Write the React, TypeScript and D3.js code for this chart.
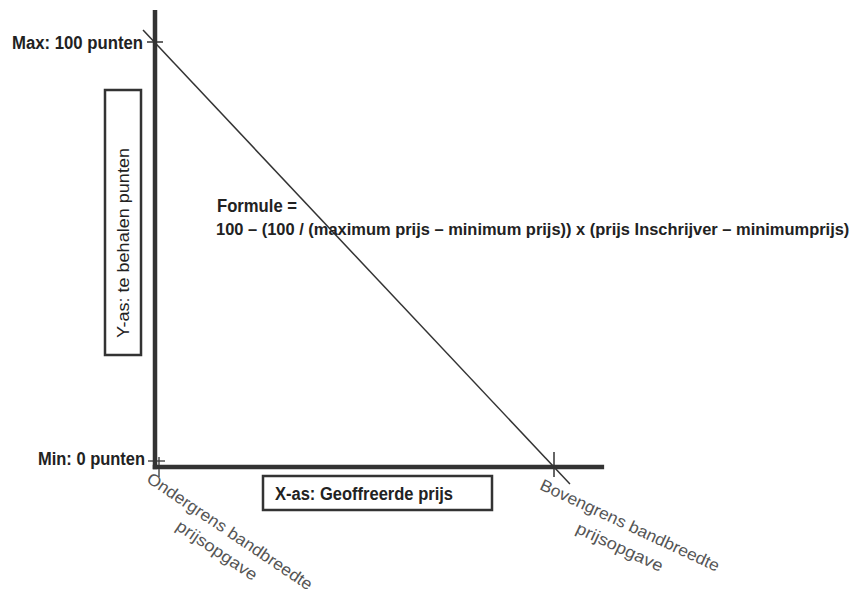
import React from "react";
import * as d3 from "d3";

// ---- data ----
const xTickValues = [0, 1]; // normalised offered price: lower / upper bound of the band
const xTickLabels = [
  ["Ondergrens bandbreedte", "prijsopgave"],
  ["Bovengrens bandbreedte", "prijsopgave"],
];
const xTickAngles = [34, 25];
const yTickValues = [0, 100];
const yTickLabels = ["Min: 0 punten", "Max: 100 punten"];
const scoreLinePrice = [-0.03, 1.04];
const scoreLinePoints = [102.8, -4];
const xAxisExtent = [0, 1.12];
const yAxisExtent = [0, 107];
const formulaLines = [
  "Formule =",
  "100 \u2013  (100 / (maximum prijs \u2013 minimum prijs)) x (prijs Inschrijver \u2013 minimumprijs)",
];
const xAxisTitle = "X-as: Geoffreerde prijs";
const yAxisTitle = "Y-as: te behalen punten";

const W = 855;
const H = 592;
const FONT = "'Liberation Sans', Arial, sans-serif";
const DARK = "#333";

export default function App() {
  const x = d3.scaleLinear().domain([0, 1]).range([155, 554]);
  const y = d3.scaleLinear().domain([0, 100]).range([467, 42]);
  const line = d3
    .line<[number, number]>()
    .x((d) => x(d[0]))
    .y((d) => y(d[1]));
  const scorePts: [number, number][] = scoreLinePrice.map((p, i) => [p, scoreLinePoints[i]]);
  const x0 = x(0);
  const y0 = y(0);

  return (
    <svg
      width={W}
      height={H}
      viewBox={`0 0 ${W} ${H}`}
      style={{ position: "absolute", left: 0, top: 0, background: "#fff" }}
      fontFamily={FONT}
    >
      {/* axes */}
      <line x1={x0} x2={x0} y1={y(yAxisExtent[1])} y2={y(yAxisExtent[0])} stroke={DARK} strokeWidth={4.5} strokeLinecap="square" />
      <line x1={x(xAxisExtent[0])} x2={x(xAxisExtent[1])} y1={y0} y2={y0} stroke={DARK} strokeWidth={4.5} strokeLinecap="square" />

      {/* score line */}
      <path d={line(scorePts) || ""} fill="none" stroke={DARK} strokeWidth={1.5} />

      {/* ticks */}
      <line x1={x0 - 8} x2={x0 + 8} y1={y(yTickValues[1])} y2={y(yTickValues[1])} stroke={DARK} strokeWidth={1.5} />
      <line x1={x0 - 7} x2={x0 + 10} y1={y0 - 6} y2={y0 - 6} stroke={DARK} strokeWidth={1.3} />
      <line x1={x0 + 4} x2={x0 + 4} y1={y0 - 10} y2={y0 + 10} stroke={DARK} strokeWidth={1.3} />
      <line x1={x(xTickValues[1])} x2={x(xTickValues[1])} y1={y0 - 15} y2={y0 + 10} stroke={DARK} strokeWidth={1.5} />

      {/* y tick labels */}
      <text x={143} y={y(yTickValues[1]) + 1} dominantBaseline="central" textAnchor="end" fontSize={17.5} fontWeight="bold" fill="#222" textLength={131} lengthAdjust="spacingAndGlyphs">
        {yTickLabels[1]}
      </text>
      <text x={145} y={y(yTickValues[0]) - 8} dominantBaseline="central" textAnchor="end" fontSize={17.5} fontWeight="bold" fill="#222" textLength={107} lengthAdjust="spacingAndGlyphs">
        {yTickLabels[0]}
      </text>

      {/* x tick labels (rotated) */}
      {xTickValues.map((v, i) => {
        const cx = i === 0 ? 230 : 630;
        const cy = i === 0 ? 531 : 525;
        return (
          <g key={i} transform={`translate(${cx},${cy}) rotate(${xTickAngles[i]})`}>
            <text x={0} y={0} textAnchor="middle" dominantBaseline="central" fontSize={16.5} fill="#555" textLength={196} lengthAdjust="spacingAndGlyphs">
              {xTickLabels[i][0]}
            </text>
            <text x={0} y={i === 0 ? 23 : 24} textAnchor="middle" dominantBaseline="central" fontSize={16.5} fill="#555" textLength={94} lengthAdjust="spacingAndGlyphs">
              {xTickLabels[i][1]}
            </text>
          </g>
        );
      })}

      {/* y axis title box */}
      <rect x={105} y={90} width={36} height={265} fill="#fff" stroke={DARK} strokeWidth={2.5} />
      <text transform={`translate(123,243) rotate(-90)`} textAnchor="middle" dominantBaseline="central" fontSize={16.5} fill="#222" textLength={190} lengthAdjust="spacingAndGlyphs">
        {yAxisTitle}
      </text>

      {/* x axis title box */}
      <rect x={263} y={476} width={229} height={34} fill="#fff" stroke={DARK} strokeWidth={2.5} />
      <text x={275} y={494} dominantBaseline="central" fontSize={17.5} fontWeight="bold" fill="#222" textLength={178} lengthAdjust="spacingAndGlyphs">
        {xAxisTitle}
      </text>

      {/* formula */}
      <text x={217} y={206} dominantBaseline="central" fontSize={17.5} fontWeight="bold" fill="#222" textLength={80} lengthAdjust="spacingAndGlyphs">
        {formulaLines[0]}
      </text>
      <g transform="translate(216,229) scale(0.968,1)">
        <text x={0} y={0} dominantBaseline="central" fontSize={17} fontWeight="bold" fill="#222">
          {formulaLines[1]}
        </text>
      </g>
    </svg>
  );
}
